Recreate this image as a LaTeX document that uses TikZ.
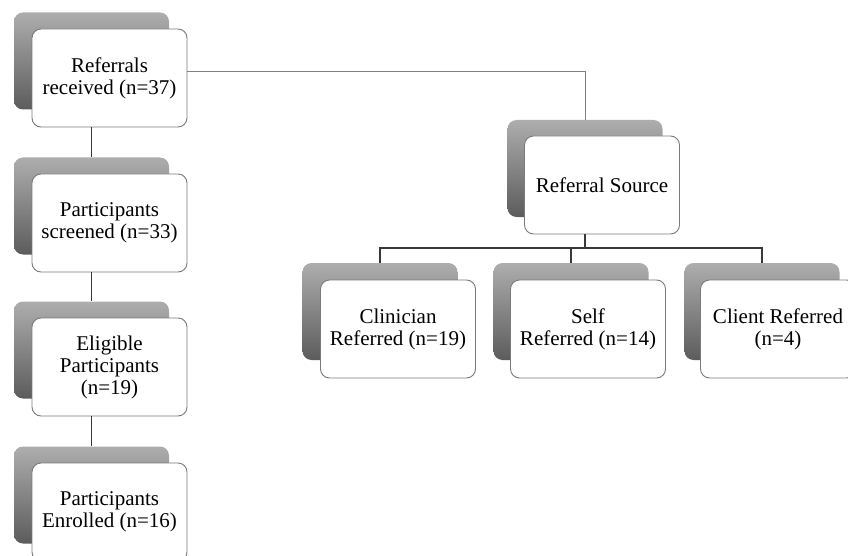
\documentclass[tikz,border=0pt]{standalone}
\usepackage{fontspec}
\setmainfont{Liberation Serif}
\begin{document}
\begin{tikzpicture}[x=1pt,y=-1pt,
  card/.style={draw=black!52, line width=0.9pt, fill=white, rounded corners=9pt,
    minimum width=155pt, minimum height=98pt, inner sep=0pt, align=center,
    font=\fontsize{21}{22}\selectfont},
  backcard/.style={rounded corners=9pt, top color=black!32, bottom color=black!64,
    minimum width=155pt, minimum height=97pt, inner sep=0pt},
  darkline/.style={draw=black!78, line width=1.5pt},
  lightline/.style={draw=black!50, line width=0.8pt}]
\useasboundingbox (0,0) rectangle (848,556);
% left column
\node[backcard] (s1) at (91.5,61) {};
\node[card] (b1) at (109.5,78) {Referrals\\received (n=37)};
\node[backcard] (s2) at (91.5,206) {};
\node[card] (b2) at (109.5,223) {Participants\\screened (n=33)};
\node[backcard] (s3) at (91.5,350) {};
\node[card] (b3) at (109.5,367) {Eligible\\Participants\\(n=19)};
\node[backcard] (s4) at (91.5,495) {};
\node[card] (b4) at (109.5,512) {Participants\\Enrolled (n=16)};
% right tree
\node[backcard] (s5) at (585,168.5) {};
\node[card] (b5) at (602,185) {Referral Source};
\node[backcard] (s6) at (380,311.5) {};
\node[card] (b6) at (398,329) {Clinician\\Referred (n=19)};
\node[backcard] (s7) at (571,311.5) {};
\node[card] (b7) at (588,329) {Self\\Referred (n=14)};
\node[backcard] (s8) at (762,311.5) {};
\node[card] (b8) at (778,329) {Client Referred\\(n=4)};
% connectors
\draw[darkline] (s1.south |- b1.south) -- (s2.north);
\draw[darkline] (s2.south |- b2.south) -- (s3.north);
\draw[darkline] (s3.south |- b3.south) -- (s4.north);
\draw[lightline] ([yshift=7pt]b1.east) -| (s5.north);
\coordinate (j) at (585,248);
\draw[darkline, line width=1.1pt] (s5.south |- b5.south) -- (j);
\draw[darkline, line width=1.1pt] (s6.north) -- (s6.north |- j) -- (s8.north |- j) -- (s8.north);
\draw[darkline, line width=1.1pt] (s7.north) -- (s7.north |- j);
\end{tikzpicture}
\end{document}
